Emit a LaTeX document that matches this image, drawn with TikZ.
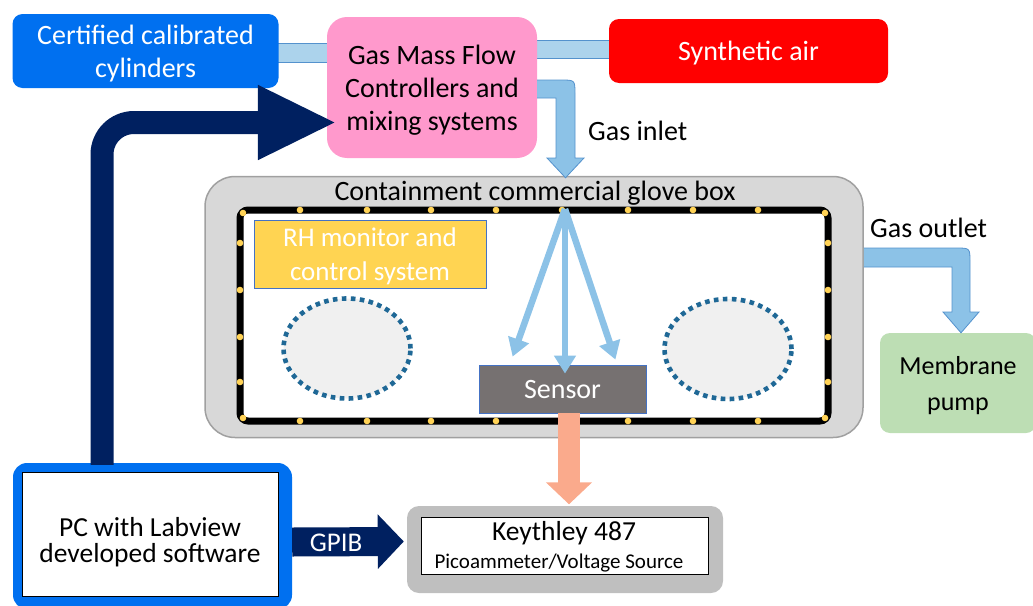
\documentclass[tikz,border=0pt]{standalone}
\usepackage{fontspec}
\setmainfont{Carlito}
\usetikzlibrary{calc,arrows.meta,shapes.geometric}
\pgfdeclarelayer{pipes}
\pgfsetlayers{pipes,main}

\definecolor{cylblue}{RGB}{0,112,240}
\definecolor{mfcpink}{RGB}{255,153,204}
\definecolor{airred}{RGB}{255,0,0}
\definecolor{pipefill}{RGB}{172,211,236}
\definecolor{pipeedge}{RGB}{84,146,205}
\definecolor{flowblue}{RGB}{140,194,231}
\definecolor{boxgray}{RGB}{216,216,216}
\definecolor{boxedge}{RGB}{160,160,160}
\definecolor{rhyellow}{RGB}{255,212,82}
\definecolor{lampyellow}{RGB}{255,210,85}
\definecolor{portdot}{RGB}{31,104,150}
\definecolor{glovefill}{RGB}{240,240,240}
\definecolor{sensorgray}{RGB}{118,113,113}
\definecolor{outlineblue}{RGB}{68,114,196}
\definecolor{signal}{RGB}{250,170,140}
\definecolor{navy}{RGB}{0,32,96}
\definecolor{pumpgreen}{RGB}{189,222,180}
\definecolor{metergray}{RGB}{191,191,191}

\begin{document}
\begin{tikzpicture}[x=1pt,y=-1pt,
  panel/.style={rectangle, inner sep=0pt, align=center, text depth=0pt,
    font=\fontsize{28}{33}\selectfont},
  lbl/.style={inner sep=0pt, font=\fontsize{28}{33}\selectfont},
  pipe/.style={fill=pipefill, draw=pipeedge, line width=0.8pt},
  flowedge/.style={draw=pipeedge, line width=0.8pt, line join=miter},
  spray/.style={draw=flowblue, line width=6.5pt,
    -{Triangle[width=21pt,length=18pt]}},
  lamp/.style={fill=lampyellow},
  porthole/.style={ellipse, fill=glovefill, draw=portdot, line width=4.6pt,
    dash pattern=on 4.6pt off 4.4pt, minimum width=127pt,
    minimum height=100pt, inner sep=0pt},
]
\clip (0,0) rectangle (1033,605);

% gas sources and mixing
\node[panel, fill=cylblue, text=white, rounded corners=10pt,
  minimum width=266pt, minimum height=74pt] (cyl) at (145.5,51)
  {Certified calibrated\\cylinders};
\node[panel, fill=mfcpink, rounded corners=20pt,
  minimum width=210pt, minimum height=141pt] (gmf) at (432,87.5)
  {Gas Mass Flow\\Controllers and\\mixing systems};
\node[panel, fill=airred, text=white, rounded corners=10pt,
  minimum width=279pt, minimum height=64pt] (air) at (748.5,51)
  {Synthetic air};

\begin{pgfonlayer}{pipes}
  \path[pipe] ($(cyl.east)+(-10,-8)$) rectangle ($(gmf.west |- cyl.east)+(10,11)$);
  \path[pipe] ($(gmf.east |- air.west)+(-10,-11)$) rectangle ($(air.west)+(10,7)$);
\end{pgfonlayer}

% glove box
\node[rectangle, fill=boxgray, draw=boxedge, line width=1.5pt,
  rounded corners=30pt, minimum width=658pt, minimum height=261pt]
  (glove) at (534,307) {};
\node[lbl] (title) at (535,193) {Containment commercial glove box};
\node[rectangle, fill=white, draw=black, line width=7pt, rounded corners=8pt,
  minimum width=588pt, minimum height=211pt] (frame) at (534,315.5) {};

% lamps along the frame
\foreach \x in {300,367,431,496,562,628,693,758}{
  \fill[lamp] (\x,210) circle[radius=3.3pt];
  \fill[lamp] (\x,421) circle[radius=3.3pt];
}
\foreach \y in {243,290,337,382}{
  \fill[lamp] (240,\y) circle[radius=3.3pt];
  \fill[lamp] (828,\y) circle[radius=3.3pt];
}
\foreach \p in {(243,213),(825,213),(243,418),(825,418)}{
  \fill[lamp] \p circle[radius=3.3pt];
}

\node[panel, fill=rhyellow, draw=outlineblue, line width=0.8pt, text=white,
  font=\fontsize{27}{34}\selectfont,
  minimum width=232pt, minimum height=68pt] (rh) at (370,254)
  {RH monitor and\\control system};
\node[porthole] (portL) at (347,348.5) {};
\node[porthole] (portR) at (728,349) {};
\node[panel, fill=sensorgray, draw=outlineblue, line width=0.8pt, text=white,
  minimum width=167pt, minimum height=48pt] (sensor) at (562.5,389) {Sensor};

% gas inlet
\coordinate (inTop) at ($(gmf.east)+(0,-7.5)$);
\coordinate (inBot) at ($(gmf.east)+(0,10.5)$);
\coordinate (inTip) at ($(glove.north)+(31.5,2)$);
\fill[flowblue] (inTop) -- (561,80) .. controls (575,80) .. (575,94)
  -- (575,158) -- (584,158) -- (inTip) -- (547,158) -- (556,158)
  -- (556,98) -- (inBot) -- cycle;
\draw[flowedge] (inBot) -- (556,98) -- (556,158) -- (547,158) -- (inTip)
  -- (584,158) -- (575,158) -- (575,94) .. controls (575,80) .. (561,80)
  -- (inTop);
\node[lbl, anchor=base west] (inlet) at (588,140) {Gas inlet};

% distribution onto the sensor
\coordinate (nozzle) at (565,209);
\draw[spray] (nozzle) -- ($(sensor.north west)+(34,-8)$);
\draw[spray] (nozzle) -- ($(sensor.north)+(2.5,9)$);
\draw[spray] (nozzle) -- ($(sensor.north east)+(-31,-5)$);

% gas outlet to the pump
\node[panel, fill=pumpgreen, rounded corners=10pt,
  font=\fontsize{26}{36}\selectfont,
  minimum width=156pt, minimum height=100pt] (pump) at (958,383)
  {Membrane\\pump};
\coordinate (outTop) at ($(glove.east)+(0,-59)$);
\coordinate (outBot) at ($(glove.east)+(0,-40)$);
\coordinate (outTip) at ($(pump.north)+(3,0)$);
\fill[flowblue] (outTop) -- (956,248) .. controls (970,248) .. (970,262)
  -- (970,312) -- (979,312) -- (outTip) -- (943,312) -- (952,312)
  -- (952,267) -- (outBot) -- cycle;
\draw[flowedge] (outBot) -- (952,267) -- (952,312) -- (943,312) -- (outTip)
  -- (979,312) -- (970,312) -- (970,262) .. controls (970,248) .. (956,248)
  -- (outTop);
\node[lbl, anchor=base west] (outlet) at (870,237) {Gas outlet};

% measurement chain
\node[rectangle, fill=metergray, rounded corners=12pt,
  minimum width=316pt, minimum height=87pt] (keith) at (565,549.5) {};
\node[rectangle, fill=white, draw=black, line width=1pt,
  minimum width=287pt, minimum height=57pt] (keithpanel) at (564.5,545.5) {};
\node[lbl, font=\fontsize{27.5}{30}\selectfont, anchor=base] (keithname)
  at (564,540) {Keythley 487};
\node[lbl, font=\fontsize{21}{24}\selectfont, anchor=base] (keithsub)
  at (559,568) {Picoammeter/Voltage Source};

\draw[signal, line width=22pt, -{Triangle[width=45pt,length=22pt]}]
  ($(sensor.south)+(6.5,0)$) -- ($(keith.north)+(4,-1.5)$);

\node[rectangle, fill=cylblue, rounded corners=14pt,
  minimum width=279pt, minimum height=146pt] (pc) at (152.5,536) {};
\node[rectangle, fill=white, draw=black, line width=0.8pt,
  minimum width=256pt, minimum height=124pt] (pcpanel) at (150,534) {};
\node[panel, font=\fontsize{27.5}{26}\selectfont] (pctext) at (150,540)
  {PC with Labview\\developed software};

\draw[navy, line width=29pt, -{Triangle[width=53pt,length=26pt]}]
  ($(pc.east)+(0,6)$) -- ($(keith.west)+(-3,-8)$);
\node[lbl, text=white, font=\fontsize{27}{30}\selectfont] (gpib)
  at (336,543) {GPIB};

\draw[navy, line width=23pt, rounded corners=32pt,
  -{Triangle[width=69pt,length=79pt]}]
  ($(pc.north)+(-50.5,2)$) |- ($(gmf.west)+(10,35)$);

\end{tikzpicture}
\end{document}
